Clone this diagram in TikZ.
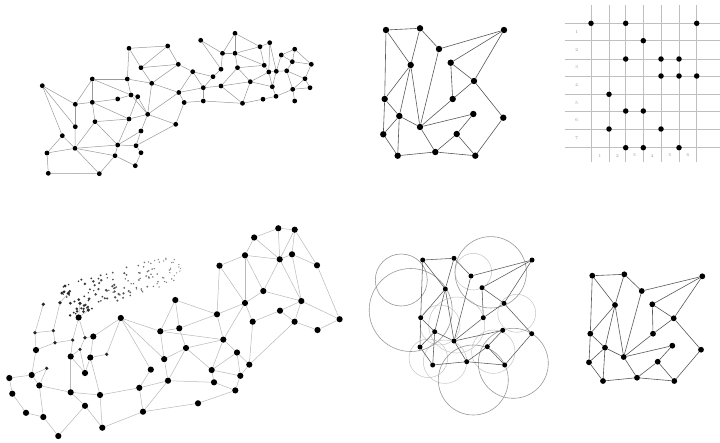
\documentclass[tikz,border=0pt]{standalone}
\begin{document}
\begin{tikzpicture}[x=1pt,y=-1pt,
  d1/.style={circle,fill=black,inner sep=0pt,minimum size=4.8pt},
  d2/.style={circle,fill=black,inner sep=0pt,minimum size=6.4pt},
  d5/.style={circle,fill=black,inner sep=0pt,minimum size=5pt},
  d6/.style={circle,fill=black,inner sep=0pt,minimum size=5.8pt},
  dg/.style={circle,fill=black,inner sep=0pt,minimum size=5.5pt},
  dbig/.style={circle,fill=black,inner sep=0pt,minimum size=6.2pt},
  dsmall/.style={circle,fill=black!85,inner sep=0pt,minimum size=3.6pt},
  e1/.style={draw=gray!80,line width=0.5pt},
  e2/.style={draw=black!65,line width=0.6pt},
  e4/.style={draw=gray!55,line width=0.5pt},
  e5/.style={draw=black!65,line width=0.55pt},
  circ/.style={draw=gray!80,line width=0.6pt},
  circl/.style={draw=gray!45,line width=0.5pt},
  gridl/.style={draw=gray!50,line width=0.8pt},
  glab/.style={font=\fontsize{4.5}{5}\selectfont,text=gray!80,inner sep=0pt}]
\useasboundingbox (0,0) rectangle (720,442);
\fill[white] (0,0) rectangle (720,442);

% ---------------- Panel 1 (top left mesh) ----------------
\foreach \n/\x/\y in {1/42.3/85.7,2/129/48.3,3/167.7/46,4/141/67.7,5/178.3/64.3,6/92.3/79,7/127.3/79,8/151.7/83.3,
 9/192.7/71.7,10/200.7/40.3,11/235/33.3,12/260/46.7,13/269.7/42.7,14/222.5/53.3,15/235/53.3,16/213/76.7,
 17/221/69.2,18/237.5/67.7,19/250.3/81.7,20/264.2/65.3,21/268.8/72,22/276.3/71.3,23/281.3/55,24/294.7/49.2,
 25/292.3/61.7,26/311.3/64.3,27/286.7/70.8,28/305/78.7,29/310/87.7,30/292.7/89.3,31/294.7/101,32/276/96.3,
 33/272.3/86.7,34/263/99.2,35/242.5/103.3,36/221/86,37/203.3/87.7,38/203.3/101,39/178.8/92.5,40/184.2/102.5,
 41/75.3/104.3,42/92.3/102.3,43/117.7/99,44/131/95,45/137.7/96.7,46/147.7/114.3,47/95/121.7,48/129/119,
 49/75.3/126.7,50/62.3/135.7,51/141/131,52/175.7/124.3,53/75/148.3,54/117.7/145,55/136/145.7,56/47/153,
 57/115/155.7,58/141/152.7,59/135.3/165.7,60/48.3/173.3,61/99.3/173.7}
  \node[d1] (p\n) at (\x,\y) {};
\foreach \u/\v in {1/41,1/50,1/49,2/3,2/7,2/4,3/4,3/5,4/5,4/8,5/9,5/8,6/7,6/41,6/42,6/44,7/44,7/8,8/46,8/39,
 9/39,9/16,9/37,10/14,10/17,11/14,11/15,11/12,12/15,15/20,14/15,14/17,15/18,16/17,16/37,18/36,18/20,18/19,
 12/20,12/13,13/22,13/21,19/36,19/21,19/35,20/21,21/22,21/33,22/23,22/27,22/33,23/24,23/25,24/26,25/26,24/25,
 25/27,27/28,27/30,28/29,28/30,29/30,30/31,30/32,32/33,32/34,33/19,34/35,35/36,35/38,36/37,37/38,37/39,
 38/40,39/40,39/46,40/52,46/52,41/42,41/49,42/43,42/47,42/48,43/44,44/45,44/46,45/46,45/48,46/48,46/51,
 47/48,47/53,47/54,48/54,49/53,50/53,50/56,51/55,51/54,52/55,53/54,53/56,53/61,53/57,54/55,54/57,55/58,
 58/59,59/57,56/60,60/61,57/61,26/28}
  \draw[e1] (p\u) -- (p\v);

% ---------------- graph edges list ----------------
\def\gedges{A/B,A/H,A/E,B/E,B/D,D/C,C/F,C/G,D/M,E/H,E/M,E/J,J/P,F/G,F/I,G/I,I/M,G/L,L/R,H/J,H/N,J/M,J/N,M/K,M/Q,Q/O,O/K,O/R,N/P,P/Q,Q/R}

% ---------------- Panel 2 (top middle graph) ----------------
\foreach \n/\x/\y in {A/386/30,B/420/28.3,C/504/30,D/439/49,E/410.7/65,F/450.7/62.7,G/474/81,H/384.7/99,
 I/452.7/99,J/399.3/116,K/473.3/114,L/503.3/117.7,M/420/127,N/383.3/134.3,O/456.7/134,P/397.7/155.7,
 Q/435.3/152,R/475.3/155.7}
  \node[d2] (t\n) at (\x,\y) {};
\foreach \u/\v in \gedges \draw[e2] (t\u) -- (t\v);

% ---------------- Panel 3 (grid) ----------------
\foreach \x in {591,609,625.7,643.3,661,679,696.7} \draw[gridl] (\x,5) -- (\x,162);
\foreach \y in {23.3,40.7,59,76,94.3,111,129,147.7} \draw[gridl] (565,\y) -- (720,\y);
\foreach \t/\y in {1/32,2/50,3/67.5,4/85.2,5/102.7,6/120,7/138.3}
  \node[glab] (gl\t) at (576.7,\y) {\t};
\foreach \t/\x in {1/600,2/617.3,3/634.5,4/652.2,5/670,6/687.8}
  \node[glab] (gb\t) at (\x,155.5) {\t};
\foreach \n/\x/\y in {1/591/23.3,2/625.7/23.3,3/696.7/23.3,4/643.3/40.7,5/625.7/59,6/661/59,7/679/59,
 8/661/76,9/679/76,10/696.7/76,11/609/94.3,12/625.7/111,13/643.3/111,14/609/129,15/661/129,
 16/625.7/147.7,17/643.3/147.7,18/679/147.7}
  \node[dg] (g\n) at (\x,\y) {};

% ---------------- Panel 5 (graph with circles) ----------------
\draw[circl] (456.7,325) circle[radius=28pt];
\draw[circl] (493.3,351.7) circle[radius=21.7pt];
\draw[circl] (445,361.7) circle[radius=21.7pt];
\draw[circl] (440,325) circle[radius=20pt];
\draw[circl] (473.3,271.7) circle[radius=18.3pt];
\draw[circl] (516.7,313.3) circle[radius=19pt];
\draw[circl] (428.3,358.3) circle[radius=19.3pt];
\draw[circ] (401.3,280) circle[radius=26pt];
\draw[circ] (410.7,310) circle[radius=41.5pt];
\draw[circ] (490.7,272.3) circle[radius=35.7pt];
\draw[circ] (513.3,363.3) circle[radius=35pt];
\draw[circ] (473.3,380) circle[radius=35pt];
\foreach \n/\x/\y in {A/422.7/260,B/454/258.3,C/532/260,D/471/276,E/445.3/289,F/482/287.7,G/504/303.3,
 H/420.7/317.7,I/483.3/317.7,J/434.7/331.7,K/502.7/330.3,L/531.7/333.7,M/454/341,N/420/347,O/487.3/346.7,
 P/432.7/365,Q/466.7/361.7,R/504.7/365}
  \node[d5] (c\n) at (\x,\y) {};
\foreach \u/\v in \gedges \draw[e5] (c\u) -- (c\v);

% ---------------- Panel 6 (bottom right graph) ----------------
\foreach \n/\x/\y in {A/592.3/275.7,B/624.3/274.3,C/702.3/276.3,D/641.7/291,E/615/305,F/652.3/304.3,
 G/673.7/318.3,H/590.3/333.7,I/653/333.7,J/605/347.7,K/672.3/345.7,L/701/349.7,M/623.7/357,N/589/362.3,
 O/657.7/361.7,P/603/381,Q/637/377.7,R/674.3/381}
  \node[d6] (s\n) at (\x,\y) {};
\foreach \u/\v in \gedges \draw[e2] (s\u) -- (s\v);

% ---------------- Panel 4 (bottom left) ----------------
% swarm of particles
\pgfmathsetseed{4242}
\foreach \k in {1,...,135}{
  \pgfmathsetmacro\tt{rnd}
  \pgfmathsetmacro\ss{rand*(17-4*\tt)}
  \pgfmathsetmacro\xx{64+116*\tt+0.29*\ss}
  \pgfmathsetmacro\yy{302-36*\tt+0.96*\ss}
  \pgfmathsetmacro\rr{0.7+1.1*(1-\tt)*rnd}
  \pgfmathsetmacro\gg{85-40*\tt}
  \fill[black!\gg] (\xx,\yy) circle[radius=\rr pt];
}
% clusters
\foreach \n/\x/\y in {a1/278.3/228.3,a2/294.7/229.7,a3/254.2/237.5,a4/245/255.3,a5/279.7/259.3,a6/292/254.3,
 a7/317/265.3,a8/219.5/265.7,a9/263.3/291,a10/245/303,a11/301.3/301,a12/280/310.7,a13/339.6/319.2,
 a14/252.7/321.7,a15/294.6/321.7,a16/317.5/330,a17/249.3/364.6,
 b1/175.3/300,b2/217/314.3,b3/120.8/318,b4/160.3/331.3,b5/179.3/328.3,b6/223.3/339.6,b7/186/348,
 b8/237/352.5,b9/164.2/359.1,b10/150.8/369.6,b11/211.7/370,b12/240.3/375.8,b13/168/380.7,b14/139.3/387.8,
 b15/214/382.3,b16/235.3/390.4,b17/198/403.3,b18/143/411.7,
 L6/78.6/317.5,L10/93.3/336.5,L14/70.7/356.5,L15/90.3/357.5,L17/36/350,L20/31.7/375,L21/85/373,
 L22/9.3/378,L23/39.3/385.5,L24/70.7/392.3,L25/100/395,L26/12.3/393.7,L27/85/405.8,L28/26/412.8,
 L29/43.3/417,L30/102.3/427.7,L31/58.3/436}
  \node[dbig] (\n) at (\x,\y) {};
\foreach \n/\x/\y in {L1/68.3/293.3,L2/60/302.7,L3/43.3/304.3,L4/80/303.3,L5/88.3/310,L8/53.3/330.7,
 L9/35/332.7,L11/72.7/340,L12/85/337.7,L13/80/349.3,L16/106.7/354.3,L18/55/342.7,L19/46.7/368.3}
  \node[dsmall] (\n) at (\x,\y) {};
\foreach \u/\v in {a1/a2,a1/a3,a1/a5,a2/a5,a2/a6,a2/a7,a3/a4,a3/a5,a4/a5,a4/a9,a4/a10,a4/a8,a5/a9,a5/a6,
 a6/a11,a6/a7,a7/a13,a5/a11,a9/a11,a9/a10,a10/a14,a8/a10,a8/b2,a11/a13,a11/a12,a12/a15,a11/a15,a14/a17,
 a15/a16,a16/a13,a15/a17,a14/a12,
 b1/b2,b1/b4,b1/b5,b3/b4,b3/b9,b3/b10,b4/b5,b4/b9,b5/b2,b5/b7,b2/b6,b2/a10,b6/b7,b6/b11,b7/b11,b7/b9,
 b9/b13,b7/b13,b6/b8,b8/b11,b8/b12,b11/b12,b11/b15,b13/b15,b13/b14,b10/b14,b13/b18,b14/b18,b18/b17,
 b17/b16,b16/b15,b16/b12,b4/b6,a10/b6,a17/b12,b8/a17,
 L22/L20,L22/L26,L20/L23,L20/L17,L17/L9,L17/L18,L9/L8,L8/L18,L18/L11,L11/L14,L14/L24,L14/L21,L21/L15,
 L15/L10,L10/L12,L12/L13,L13/L14,L15/L25,L24/L25,L23/L24,L23/L29,L26/L28,L28/L29,L29/L31,L31/L27,
 L27/L24,L27/L30,L25/L30,L25/b14,L10/b3,L16/L15,L19/L23,L19/L20,L6/L12,L6/L5,L4/L6,L3/L9,L2/L1,
 L13/L21,L16/b3,L6/L11,L2/L8,L30/b18}
  \draw[e4] (\u) -- (\v);
\end{tikzpicture}
\end{document}
